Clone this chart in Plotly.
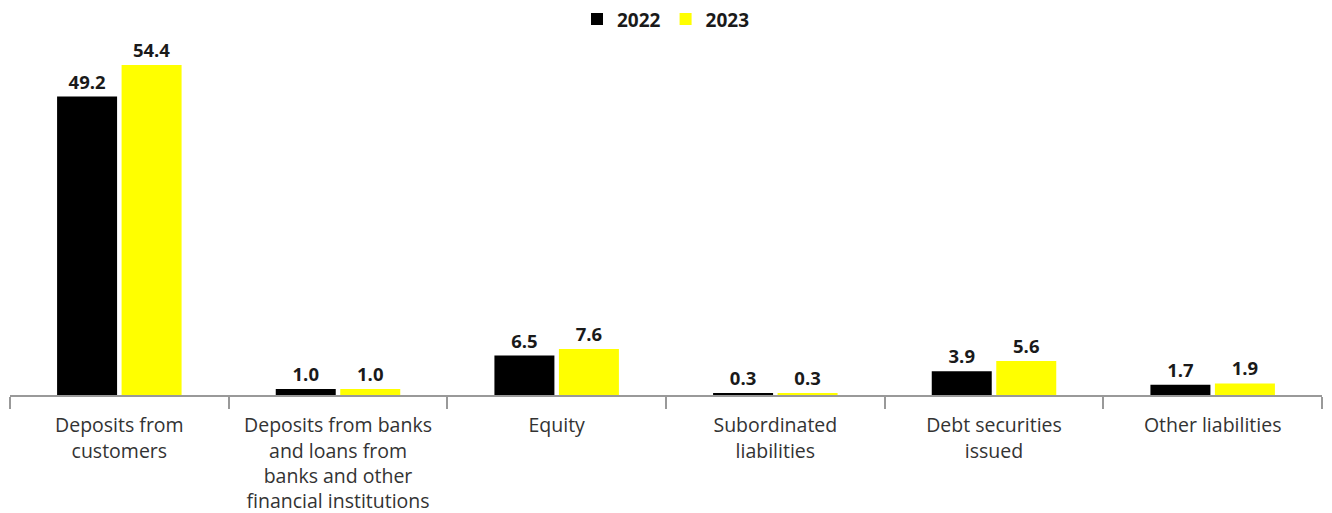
import plotly.graph_objects as go

categories = [
    "Deposits from<br>customers",
    "Deposits from banks<br>and loans from<br>banks and other<br>financial institutions",
    "Equity",
    "Subordinated<br>liabilities",
    "Debt securities<br>issued",
    "Other liabilities",
]
values_2022 = [49.2, 1.0, 6.5, 0.3, 3.9, 1.7]
values_2023 = [54.4, 1.0, 7.6, 0.3, 5.6, 1.9]
series_names = ["2022", "2023"]

FONT = "Open Sans"
fig = go.Figure()
for name, vals, color in [(series_names[0], values_2022, "#000000"),
                          (series_names[1], values_2023, "#FFFF00")]:
    fig.add_trace(go.Bar(
        x=categories, y=vals, name=name, marker_color=color,
        marker_line_width=0,
        text=[f"{v:.1f}" for v in vals], textposition="outside",
        textfont=dict(family=FONT, size=18.5, color="#1a1a1a", weight="bold"),
        cliponaxis=False,
    ))

fig.update_layout(
    width=1332, height=513,
    margin=dict(l=10, r=10, t=8, b=118, autoexpand=False),
    paper_bgcolor="white", plot_bgcolor="white",
    barmode="group", bargap=0.41, bargroupgap=0.07,
    font=dict(family=FONT, size=20, color="#333333"),
    legend=dict(orientation="h", x=0.5, xanchor="center", y=1.02, yanchor="top",
                font=dict(family=FONT, size=19, color="#1a1a1a", weight="bold"),
                traceorder="normal", bgcolor="rgba(0,0,0,0)"),
    showlegend=True,
)
fig.update_xaxes(showline=True, linecolor="#999999", linewidth=2,
                 ticks="outside", tickson="boundaries", ticklen=12, tickwidth=2,
                 tickcolor="#999999", showgrid=False, automargin=False,
                 ticklabelstandoff=12,
                 tickfont=dict(family=FONT, size=19.5, color="#333333"))
fig.update_yaxes(visible=False, range=[0, 63.8], showgrid=False, zeroline=False,
                 automargin=False)

fig.write_html("out.html", config={"displayModeBar": False},
               post_script="document.body.style.margin='0';document.body.style.overflow='hidden';")
